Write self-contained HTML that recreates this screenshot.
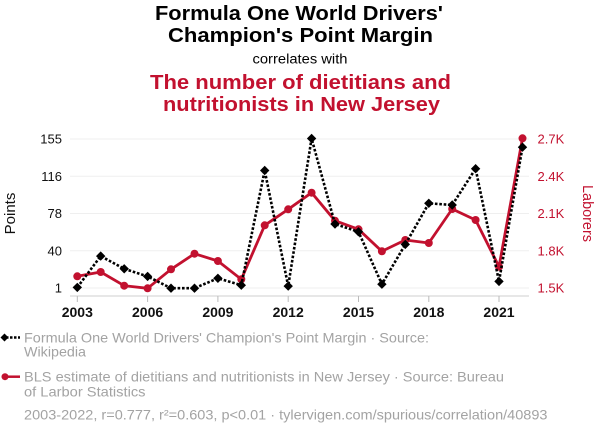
<!DOCTYPE html>
<html>
<head>
<meta charset="utf-8">
<style>
html,body{margin:0;padding:0;background:#fff;}
svg{display:block;}
text{font-family:"Liberation Sans",Arial,sans-serif;}
</style>
</head>
<body>
<svg width="600" height="436" viewBox="0 0 600 436" xmlns="http://www.w3.org/2000/svg">
  <!-- Titles -->
  <text x="299" y="20" text-anchor="middle" font-size="20" font-weight="bold" fill="#000" textLength="288" lengthAdjust="spacingAndGlyphs">Formula One World Drivers'</text>
  <text x="300.5" y="42" text-anchor="middle" font-size="20" font-weight="bold" fill="#000" textLength="265" lengthAdjust="spacingAndGlyphs">Champion's Point Margin</text>
  <text x="300" y="63.5" text-anchor="middle" font-size="13.5" fill="#000" textLength="95" lengthAdjust="spacingAndGlyphs">correlates with</text>
  <text x="300.5" y="89" text-anchor="middle" font-size="20.5" font-weight="bold" fill="#c2112f" textLength="301" lengthAdjust="spacingAndGlyphs">The number of dietitians and</text>
  <text x="301.5" y="111" text-anchor="middle" font-size="20.5" font-weight="bold" fill="#c2112f" textLength="277" lengthAdjust="spacingAndGlyphs">nutritionists in New Jersey</text>

  <!-- Gridlines -->
  <g stroke="#efefef" stroke-width="1">
    <line x1="70" y1="139" x2="529" y2="139"/>
    <line x1="70" y1="176.25" x2="529" y2="176.25"/>
    <line x1="70" y1="213.5" x2="529" y2="213.5"/>
    <line x1="70" y1="250.75" x2="529" y2="250.75"/>
    <line x1="70" y1="288" x2="529" y2="288"/>
  </g>

  <!-- X axis -->
  <line x1="70" y1="296" x2="529" y2="296" stroke="#cfcfcf" stroke-width="1"/>
  <g stroke="#bbb" stroke-width="1">
    <line x1="77.3" y1="296" x2="77.3" y2="302"/>
    <line x1="147.6" y1="296" x2="147.6" y2="302"/>
    <line x1="217.9" y1="296" x2="217.9" y2="302"/>
    <line x1="288.2" y1="296" x2="288.2" y2="302"/>
    <line x1="358.5" y1="296" x2="358.5" y2="302"/>
    <line x1="428.8" y1="296" x2="428.8" y2="302"/>
    <line x1="499.0" y1="296" x2="499.0" y2="302"/>
  </g>
  <g font-size="14" font-weight="bold" fill="#111" text-anchor="middle">
    <text x="77.3" y="317">2003</text>
    <text x="147.6" y="317">2006</text>
    <text x="217.9" y="317">2009</text>
    <text x="288.2" y="317">2012</text>
    <text x="358.5" y="317">2015</text>
    <text x="428.8" y="317">2018</text>
    <text x="499.0" y="317">2021</text>
  </g>

  <!-- Left axis labels -->
  <g font-size="13" fill="#111" text-anchor="end">
    <text x="62" y="143.7">155</text>
    <text x="62" y="180.9">116</text>
    <text x="62" y="218.2">78</text>
    <text x="62" y="255.4">40</text>
    <text x="62" y="292.7">1</text>
  </g>
  <text transform="translate(15,213.5) rotate(-90)" text-anchor="middle" font-size="15" fill="#111">Points</text>

  <!-- Right axis labels -->
  <g font-size="13" fill="#c2112f" text-anchor="start">
    <text x="537.5" y="143.7">2.7K</text>
    <text x="537.5" y="180.9">2.4K</text>
    <text x="537.5" y="218.2">2.1K</text>
    <text x="537.5" y="255.4">1.8K</text>
    <text x="537.5" y="292.7">1.5K</text>
  </g>
  <text transform="translate(583,213.5) rotate(90)" text-anchor="middle" font-size="15" fill="#c2112f" textLength="57" lengthAdjust="spacingAndGlyphs">Laborers</text>

  <!-- Red series -->
  <polyline fill="none" stroke="#c2112f" stroke-width="2.8" stroke-linejoin="round"
    points="77.3,276.3 100.7,272 124.2,285.7 147.6,288.3 171.0,269.3 194.5,253.7 217.9,261 241.3,279.3 264.7,225.3 288.2,209.3 311.6,192.7 335.0,220.7 358.5,229.3 381.9,251.3 405.3,240 428.8,243 452.2,209 475.6,220 499.0,266.7 522.5,138.3"/>
  <g fill="#c2112f">
    <circle cx="77.3" cy="276.3" r="4"/>
    <circle cx="100.7" cy="272" r="4"/>
    <circle cx="124.2" cy="285.7" r="4"/>
    <circle cx="147.6" cy="288.3" r="4"/>
    <circle cx="171.0" cy="269.3" r="4"/>
    <circle cx="194.5" cy="253.7" r="4"/>
    <circle cx="217.9" cy="261" r="4"/>
    <circle cx="241.3" cy="279.3" r="4"/>
    <circle cx="264.7" cy="225.3" r="4"/>
    <circle cx="288.2" cy="209.3" r="4"/>
    <circle cx="311.6" cy="192.7" r="4"/>
    <circle cx="335.0" cy="220.7" r="4"/>
    <circle cx="358.5" cy="229.3" r="4"/>
    <circle cx="381.9" cy="251.3" r="4"/>
    <circle cx="405.3" cy="240" r="4"/>
    <circle cx="428.8" cy="243" r="4"/>
    <circle cx="452.2" cy="209" r="4"/>
    <circle cx="475.6" cy="220" r="4"/>
    <circle cx="499.0" cy="266.7" r="4"/>
    <circle cx="522.5" cy="138.3" r="4"/>
  </g>

  <!-- Black series -->
  <polyline fill="none" stroke="#000" stroke-width="2.6" stroke-dasharray="2.6,1.8"
    points="77.3,287.4 100.7,256.1 124.2,268.8 147.6,276.4 171.0,288.2 194.5,288.2 217.9,278.3 241.3,285.2 264.7,170.5 288.2,286.1 311.6,138.5 335.0,224.0 358.5,231.8 381.9,284.2 405.3,244.4 428.8,203.3 452.2,205 475.6,168.7 499.0,281.4 522.5,147.2"/>
  <g fill="#000">
    <path d="M77.3,282.7 l4.7,4.7 l-4.7,4.7 l-4.7,-4.7z"/>
    <path d="M100.7,251.4 l4.7,4.7 l-4.7,4.7 l-4.7,-4.7z"/>
    <path d="M124.2,264.1 l4.7,4.7 l-4.7,4.7 l-4.7,-4.7z"/>
    <path d="M147.6,271.7 l4.7,4.7 l-4.7,4.7 l-4.7,-4.7z"/>
    <path d="M171.0,283.5 l4.7,4.7 l-4.7,4.7 l-4.7,-4.7z"/>
    <path d="M194.5,283.5 l4.7,4.7 l-4.7,4.7 l-4.7,-4.7z"/>
    <path d="M217.9,273.6 l4.7,4.7 l-4.7,4.7 l-4.7,-4.7z"/>
    <path d="M241.3,280.5 l4.7,4.7 l-4.7,4.7 l-4.7,-4.7z"/>
    <path d="M264.7,165.8 l4.7,4.7 l-4.7,4.7 l-4.7,-4.7z"/>
    <path d="M288.2,281.4 l4.7,4.7 l-4.7,4.7 l-4.7,-4.7z"/>
    <path d="M311.6,133.8 l4.7,4.7 l-4.7,4.7 l-4.7,-4.7z"/>
    <path d="M335.0,219.3 l4.7,4.7 l-4.7,4.7 l-4.7,-4.7z"/>
    <path d="M358.5,227.1 l4.7,4.7 l-4.7,4.7 l-4.7,-4.7z"/>
    <path d="M381.9,279.5 l4.7,4.7 l-4.7,4.7 l-4.7,-4.7z"/>
    <path d="M405.3,239.7 l4.7,4.7 l-4.7,4.7 l-4.7,-4.7z"/>
    <path d="M428.8,198.6 l4.7,4.7 l-4.7,4.7 l-4.7,-4.7z"/>
    <path d="M452.2,200.3 l4.7,4.7 l-4.7,4.7 l-4.7,-4.7z"/>
    <path d="M475.6,164.0 l4.7,4.7 l-4.7,4.7 l-4.7,-4.7z"/>
    <path d="M499.0,276.7 l4.7,4.7 l-4.7,4.7 l-4.7,-4.7z"/>
    <path d="M522.5,142.5 l4.7,4.7 l-4.7,4.7 l-4.7,-4.7z"/>
  </g>

  <!-- Legend -->
  <line x1="6" y1="337.5" x2="20" y2="337.5" stroke="#000" stroke-width="2.5" stroke-dasharray="2.5,1.5"/>
  <path d="M4.5,333.5 l4,4 l-4,4 l-4,-4z" fill="#000"/>
  <line x1="5" y1="376.7" x2="20" y2="376.7" stroke="#c2112f" stroke-width="2.5"/>
  <circle cx="5" cy="376.7" r="3.5" fill="#c2112f"/>

  <g font-size="14" fill="#a3a3a3">
    <text x="24" y="342.3" textLength="405" lengthAdjust="spacingAndGlyphs">Formula One World Drivers' Champion's Point Margin · Source:</text>
    <text x="24" y="356.7" textLength="62" lengthAdjust="spacingAndGlyphs">Wikipedia</text>
    <text x="24" y="381.7" textLength="480" lengthAdjust="spacingAndGlyphs">BLS estimate of dietitians and nutritionists in New Jersey · Source: Bureau</text>
    <text x="24" y="396.7" textLength="121.5" lengthAdjust="spacingAndGlyphs">of Larbor Statistics</text>
    <text x="24" y="419.3" textLength="523.5" lengthAdjust="spacingAndGlyphs">2003-2022, r=0.777, r²=0.603, p&lt;0.01 · tylervigen.com/spurious/correlation/40893</text>
  </g>
</svg>
</body>
</html>
